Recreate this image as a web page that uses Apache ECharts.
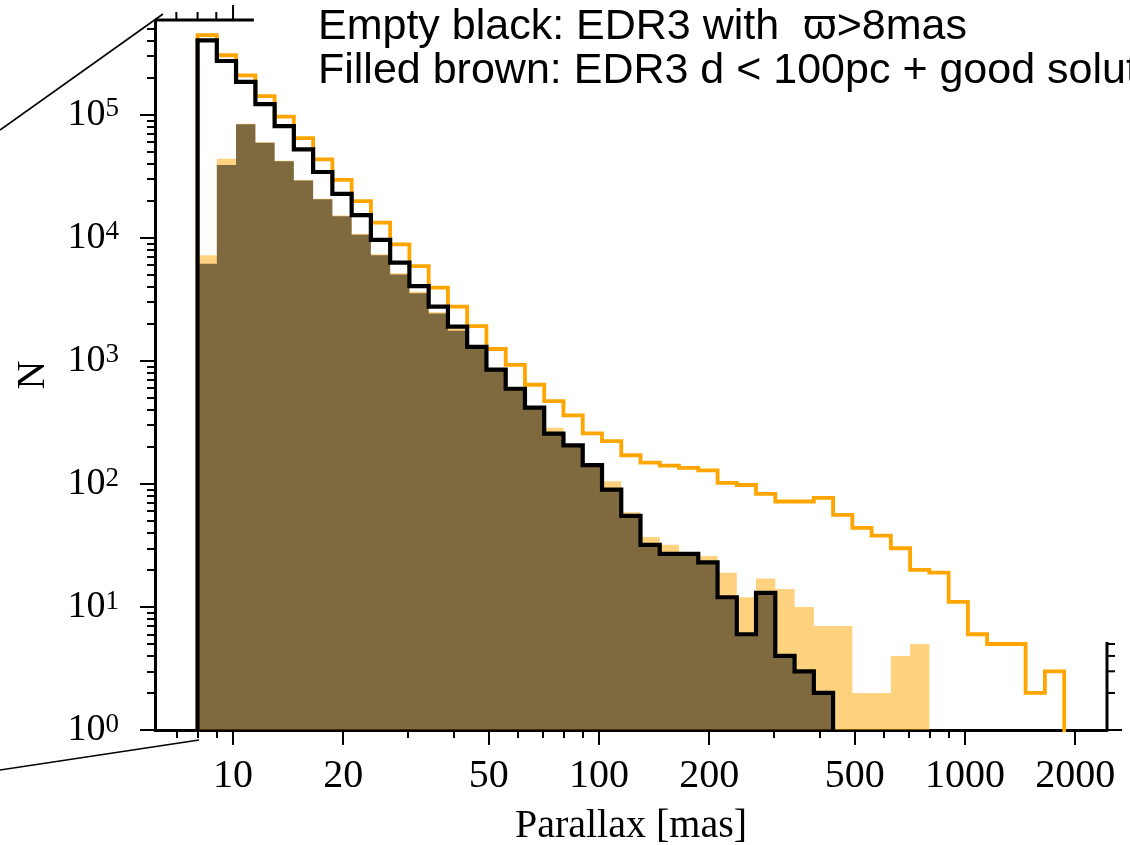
<!DOCTYPE html>
<html>
<head>
<meta charset="utf-8">
<script src="https://cdn.jsdelivr.net/npm/echarts@6/dist/echarts.min.js"></script>
<style>
  html, body { margin: 0; padding: 0; background: #fff; }
  #chart { width: 1130px; height: 845px; }
</style>
</head>
<body>
<div id="chart"></div>
<script>
// Logarithmic parallax bins (mas), 45 bins starting at 8 mas
const binEdges = [8.00, 9.03, 10.19, 11.51, 12.99, 14.66, 16.55, 18.68, 21.09, 23.80,
  26.87, 30.33, 34.24, 38.65, 43.62, 49.24, 55.59, 62.75, 70.83, 79.95,
  90.25, 101.9, 115.0, 129.8, 146.5, 165.4, 186.7, 210.8, 237.9, 268.5,
  303.1, 342.2, 386.3, 436.0, 492.2, 555.6, 627.1, 707.9, 799.1, 902.0,
  1018, 1149, 1297, 1464, 1653, 1866];

// Orange outline: all sources in the parent sample
const orangeStep = [445000, 305000, 209000, 142000, 96600, 64700, 43400, 29600, 19900, 13300,
  8850, 5900, 3940, 2760, 1920, 1250, 930, 640, 471, 361,
  258, 223, 171, 149, 141, 135, 129, 102, 98, 83,
  72, 72, 77, 56, 44, 38, 30, 20, 19, 11,
  6, 5, 5, 2, 3];

// Empty black: EDR3 with parallax > 8 mas
const blackStep = [403000, 274000, 185000, 122000, 81100, 52400, 34300, 22800, 15300, 9640,
  6290, 4060, 2760, 1900, 1300, 848, 594, 417, 256, 206,
  142, 90, 55, 32, 27, 27, 23, 12, 6, 13,
  4, 3, 2, 0, 0, 0, 0, 0, 0, 0,
  0, 0, 0, 0, 0];

// Filled orange (alpha 0.5)
const orangeFill = [7210, 44000, 84500, 60000, 42300, 29500, 20800, 15200, 10800, 7350,
  5150, 3640, 2480, 1830, 1300, 860, 600, 425, 286, 206,
  145, 105, 59, 37, 32, 27, 26, 19, 12, 17,
  14, 10, 7, 7, 2, 2, 4, 5, 0, 0,
  0, 0, 0, 0, 0];

// Filled black (alpha 0.5), drawn over the orange fill -> brown
const blackFill = [6170, 39100, 83700, 59400, 41900, 29200, 20600, 15000, 10600, 7210,
  5050, 3540, 2430, 1760, 1280, 848, 594, 417, 256, 206,
  142, 90, 55, 32, 27, 27, 23, 12, 6, 13,
  4, 3, 2, 0, 0, 0, 0, 0, 0, 0,
  0, 0, 0, 0, 0];

// Axis ticks
const xMajorTicks = [10, 20, 50, 100, 200, 500, 1000, 2000];
const xMinorTicks = [7, 8, 9, 30, 40, 60, 70, 80, 90, 300, 400, 600, 700, 800, 900];
const yMajorTicks = [1, 10, 100, 1000, 10000, 100000];
const yMinorTicks = [];
for (let d = 1; d <= 100000; d *= 10) {
  for (let m = 2; m <= 9; m++) {
    if (m * d < 5.9e5) yMinorTicks.push(m * d);
  }
}

const X_MIN = 6.12, X_MAX = 2443, Y_MIN = 1, Y_MAX = 5.9e5;
const FLOOR = 0.3;            // stand-in for empty bins on the log axis (below Y_MIN, clipped)
const topSpineEnd = 11.4;     // top frame is visible up to this parallax
const rightSpineTop = 5.2;    // right frame is visible up to this count
const topTicksMinor = [7, 8, 9];
const topTicksMajor = [10];
const rightTicksMinor = [2, 3, 4, 5];

const SERIF = "'Liberation Serif', 'DejaVu Serif', serif";
const SANS = "'Liberation Sans', Arial, 'DejaVu Sans', sans-serif";

function stepPoints(values) {
  const pts = [[binEdges[0], FLOOR]];
  values.forEach((v, i) => {
    const y = v > 0 ? v : FLOOR;
    pts.push([binEdges[i], y], [binEdges[i + 1], y]);
  });
  pts.push([binEdges[values.length], FLOOR]);
  return pts;
}

function lineSeries(values, color, width) {
  return {
    type: 'line', xAxisIndex: 0, yAxisIndex: 0,
    data: stepPoints(values), showSymbol: false, symbol: 'none',
    clip: true, animation: false, silent: true,
    lineStyle: { color: color, width: width, join: 'miter', cap: 'butt' }
  };
}

function fillSeries(values, color) {
  return {
    type: 'line', xAxisIndex: 0, yAxisIndex: 0,
    data: stepPoints(values), showSymbol: false, symbol: 'none',
    clip: true, animation: false, silent: true,
    lineStyle: { width: 0, opacity: 0 },
    areaStyle: { color: color, opacity: 1, origin: 'start' }
  };
}

const chart = echarts.init(document.getElementById('chart'), null, { renderer: 'canvas' });

const axisLineStyle = { color: '#000', width: 3 };
const tickStyle = { color: '#000', width: 2 };

chart.setOption({
  backgroundColor: '#fff',
  animation: false,
  grid: { left: 155, right: 23, top: 20, bottom: 115, containLabel: false, outerBoundsMode: 'none' },
  xAxis: [
    {
      type: 'log', logBase: 10, min: X_MIN, max: X_MAX, position: 'bottom',
      axisLine: { show: true, lineStyle: axisLineStyle },
      axisTick: { show: true, customValues: xMajorTicks, length: 15, inside: false, lineStyle: tickStyle },
      axisLabel: {
        show: true, customValues: xMajorTicks, margin: 26,
        fontSize: 40, fontFamily: SERIF, color: '#000',
        formatter: v => String(Math.round(v))
      },
      splitLine: { show: false }, minorTick: { show: false },
      name: 'Parallax [mas]', nameLocation: 'middle', nameGap: 76,
      nameTextStyle: { fontSize: 40, fontFamily: SERIF, color: '#000' }
    },
    {
      type: 'log', logBase: 10, min: X_MIN, max: X_MAX, position: 'bottom',
      axisLine: { show: false },
      axisTick: { show: true, customValues: xMinorTicks, length: 8, inside: false, lineStyle: tickStyle },
      axisLabel: { show: false }, splitLine: { show: false }
    }
  ],
  yAxis: [
    {
      type: 'log', logBase: 10, min: Y_MIN, max: Y_MAX, position: 'left',
      axisLine: { show: true, lineStyle: axisLineStyle },
      axisTick: { show: true, customValues: yMajorTicks, length: 15, inside: false, lineStyle: tickStyle },
      axisLabel: {
        show: true, customValues: yMajorTicks, margin: 36,
        formatter: v => '{b|10}{s|' + Math.round(Math.log10(v)) + '}',
        rich: {
          b: { fontSize: 38, fontFamily: SERIF, color: '#000', lineHeight: 38 },
          s: { fontSize: 27, fontFamily: SERIF, color: '#000', lineHeight: 27, verticalAlign: 'top' }
        }
      },
      splitLine: { show: false }, minorTick: { show: false },
      name: 'N', nameLocation: 'middle', nameGap: 102, nameRotate: 90,
      nameTextStyle: { fontSize: 40, fontFamily: SERIF, color: '#000' }
    },
    {
      type: 'log', logBase: 10, min: Y_MIN, max: Y_MAX, position: 'left',
      axisLine: { show: false },
      axisTick: { show: true, customValues: yMinorTicks, length: 8, inside: false, lineStyle: tickStyle },
      axisLabel: { show: false }, splitLine: { show: false }
    }
  ],
  series: [
    fillSeries(orangeFill, 'rgba(255,165,0,0.5)'),
    fillSeries(blackFill, 'rgba(0,0,0,0.5)'),
    lineSeries(orangeStep, '#FFA500', 3.8),
    lineSeries(blackStep, '#000000', 4.2)
  ]
});

// Partial top and right frame, placed through the axes' own scales
const px = (x, y) => chart.convertToPixel({ gridIndex: 0 }, [x, y]);
const graphics = [];
const seg = (a, b, w) => graphics.push({
  type: 'line', silent: true, z: 50,
  shape: { x1: a[0], y1: a[1], x2: b[0], y2: b[1] },
  style: { stroke: '#000', lineWidth: w }
});

const tl = px(X_MIN, Y_MAX), tEnd = px(topSpineEnd, Y_MAX);
seg(tl, tEnd, 3);
topTicksMinor.forEach(v => { const p = px(v, Y_MAX); seg(p, [p[0], p[1] - 8], 2); });
topTicksMajor.forEach(v => { const p = px(v, Y_MAX); seg(p, [p[0], p[1] - 15], 2); });

const br = px(X_MAX, Y_MIN), rTop = px(X_MAX, rightSpineTop);
seg(br, rTop, 3);
rightTicksMinor.forEach(v => { const p = px(X_MAX, v); seg(p, [p[0] + 8, p[1]], 2); });
seg(br, [br[0] + 15, br[1]], 2);

// Inset connector lines toward the parent panel
graphics.push({ type: 'line', silent: true, shape: { x1: 0, y1: 130, x2: tl[0] + 8, y2: tl[1] - 6 }, style: { stroke: '#000', lineWidth: 1.6 } });
graphics.push({ type: 'line', silent: true, shape: { x1: 0, y1: 770, x2: 199, y2: 740 }, style: { stroke: '#000', lineWidth: 1.6 } });

// Sample descriptions
graphics.push({ type: 'text', silent: true, left: 318, top: 6,
  style: { text: 'Empty black: EDR3 with  \u03D6>8mas', fontSize: 43, fontFamily: SANS, fill: '#000' } });
graphics.push({ type: 'text', silent: true, left: 318, top: 50,
  style: { text: 'Filled brown: EDR3 d < 100pc + good solutions', fontSize: 43, fontFamily: SANS, fill: '#000' } });

chart.setOption({ graphic: graphics });
</script>
</body>
</html>
